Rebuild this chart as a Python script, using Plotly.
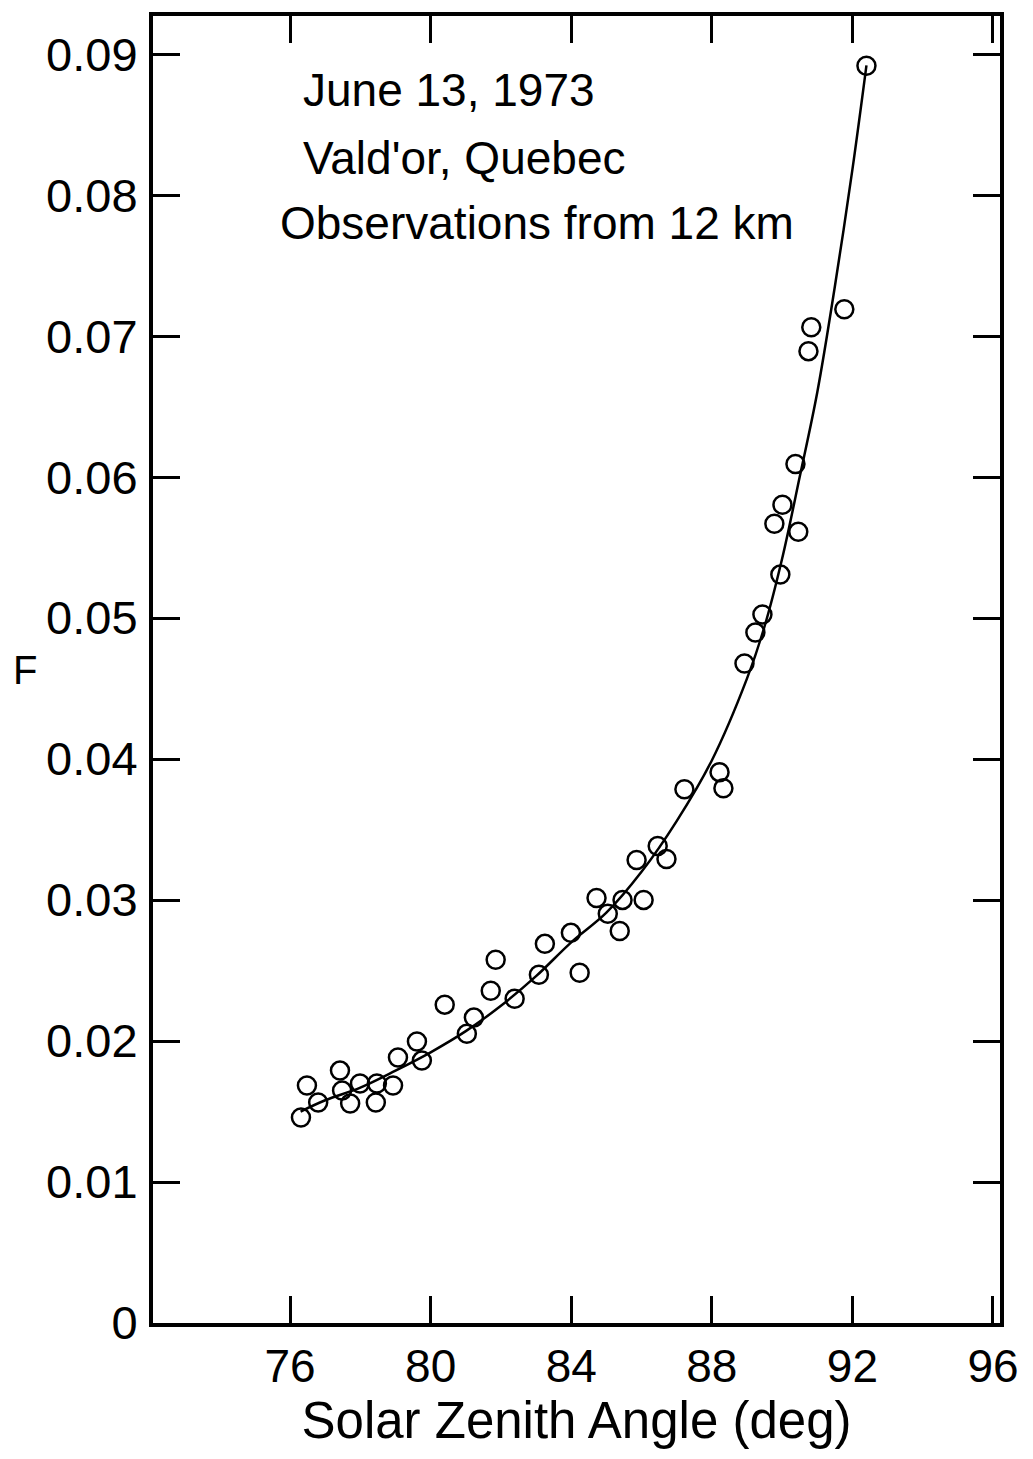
import plotly.graph_objects as go

# Observed points
obs_x = [76.31, 76.48, 76.80, 77.42, 77.48, 77.71, 77.99, 78.44, 78.47, 78.93,
         79.07, 79.61, 79.75, 80.40, 81.03, 81.23, 81.71, 81.85, 82.39, 83.08,
         83.25, 83.99, 84.24, 84.72, 85.04, 85.38, 85.46, 85.86, 86.06, 86.46,
         86.71, 87.22, 88.22, 88.33, 88.93, 89.24, 89.44, 89.95, 89.78, 90.01,
         90.46, 90.38, 90.75, 90.83, 91.77, 92.40]
obs_f = [0.01458, 0.01684, 0.01564, 0.01790, 0.01649, 0.01557, 0.01699, 0.01564, 0.01699, 0.01684,
         0.01883, 0.01996, 0.01861, 0.02258, 0.02052, 0.02166, 0.02357, 0.02576, 0.02300, 0.02470,
         0.02689, 0.02767, 0.02484, 0.03015, 0.02902, 0.02781, 0.03001, 0.03284, 0.03001, 0.03383,
         0.03291, 0.03786, 0.03907, 0.03793, 0.04678, 0.04897, 0.05025, 0.05308, 0.05669, 0.05803,
         0.05612, 0.06093, 0.06893, 0.07063, 0.07190, 0.08917]

# Fitted curve
fit_x = [76.3, 77.0, 78.0, 79.0, 80.0, 81.0, 82.0, 83.0, 84.0, 85.0, 86.0, 87.0,
         88.0, 89.0, 89.5, 90.0, 90.5, 91.0, 91.5, 92.0, 92.4]
fit_f = [0.0150, 0.0158, 0.0167, 0.0179, 0.0192, 0.0207, 0.0225, 0.0246, 0.0270, 0.0291,
         0.0320, 0.0356, 0.0399, 0.0457, 0.0494, 0.0542, 0.0600, 0.0660, 0.0735, 0.0818, 0.0892]

x_ticks = [76, 80, 84, 88, 92, 96]
x_ticktext = ["76", "80", "84", "88", "92", "96"]
y_ticks = [0, 0.01, 0.02, 0.03, 0.04, 0.05, 0.06, 0.07, 0.08, 0.09]
y_ticktext = ["0", "0.01", "0.02", "0.03", "0.04", "0.05", "0.06", "0.07", "0.08", "0.09"]

title_lines = ["June 13, 1973", "Vald'or, Quebec", "Observations from 12 km"]

FONT = "Liberation Sans"

fig = go.Figure()
fig.add_trace(go.Scatter(x=fit_x, y=fit_f, mode="lines",
                         line=dict(color="black", width=2.5, shape="spline"),
                         showlegend=False))
fig.add_trace(go.Scatter(x=obs_x, y=obs_f, mode="markers",
                         marker=dict(symbol="circle-open", size=18, color="black",
                                     line=dict(width=2.5, color="black")),
                         showlegend=False))

fig.update_layout(
    width=1033, height=1459,
    margin=dict(l=153, r=33, t=12, b=136),
    paper_bgcolor="white", plot_bgcolor="white",
    font=dict(family=FONT, color="black"),
    xaxis=dict(range=[72.1, 96.2], tickvals=x_ticks, ticktext=x_ticktext,
               ticks="inside", ticklen=27, tickwidth=3, tickcolor="black",
               showline=True, linewidth=4, linecolor="black", mirror="allticks",
               showgrid=False, zeroline=False,
               tickfont=dict(size=46, family=FONT),
               title=dict(text="Solar Zenith Angle (deg)", font=dict(size=51, family=FONT),
                          standoff=12)),
    yaxis=dict(range=[0, 0.0927], tickvals=y_ticks, ticktext=y_ticktext,
               ticks="inside", ticklen=27, tickwidth=3, tickcolor="black",
               showline=True, linewidth=4, linecolor="black", mirror="allticks",
               showgrid=False, zeroline=False,
               tickfont=dict(size=47, family=FONT), ticklabelstandoff=2),
)

fig.add_annotation(x=-0.168, y=0.50, xref="paper", yref="paper", text="F",
                   showarrow=False, font=dict(size=40, family=FONT),
                   xanchor="left", yanchor="middle")

ann_x = [301, 301, 278]
ann_y = [86, 154, 220]
for t, ax, ay in zip(title_lines, ann_x, ann_y):
    fig.add_annotation(x=(ax - 153) / (1000 - 153), y=1 - (ay - 12) / (1323 - 12),
                       xref="paper", yref="paper", text=t, showarrow=False,
                       font=dict(size=46, family=FONT), xanchor="left", yanchor="middle")

fig.write_html("out.html")
